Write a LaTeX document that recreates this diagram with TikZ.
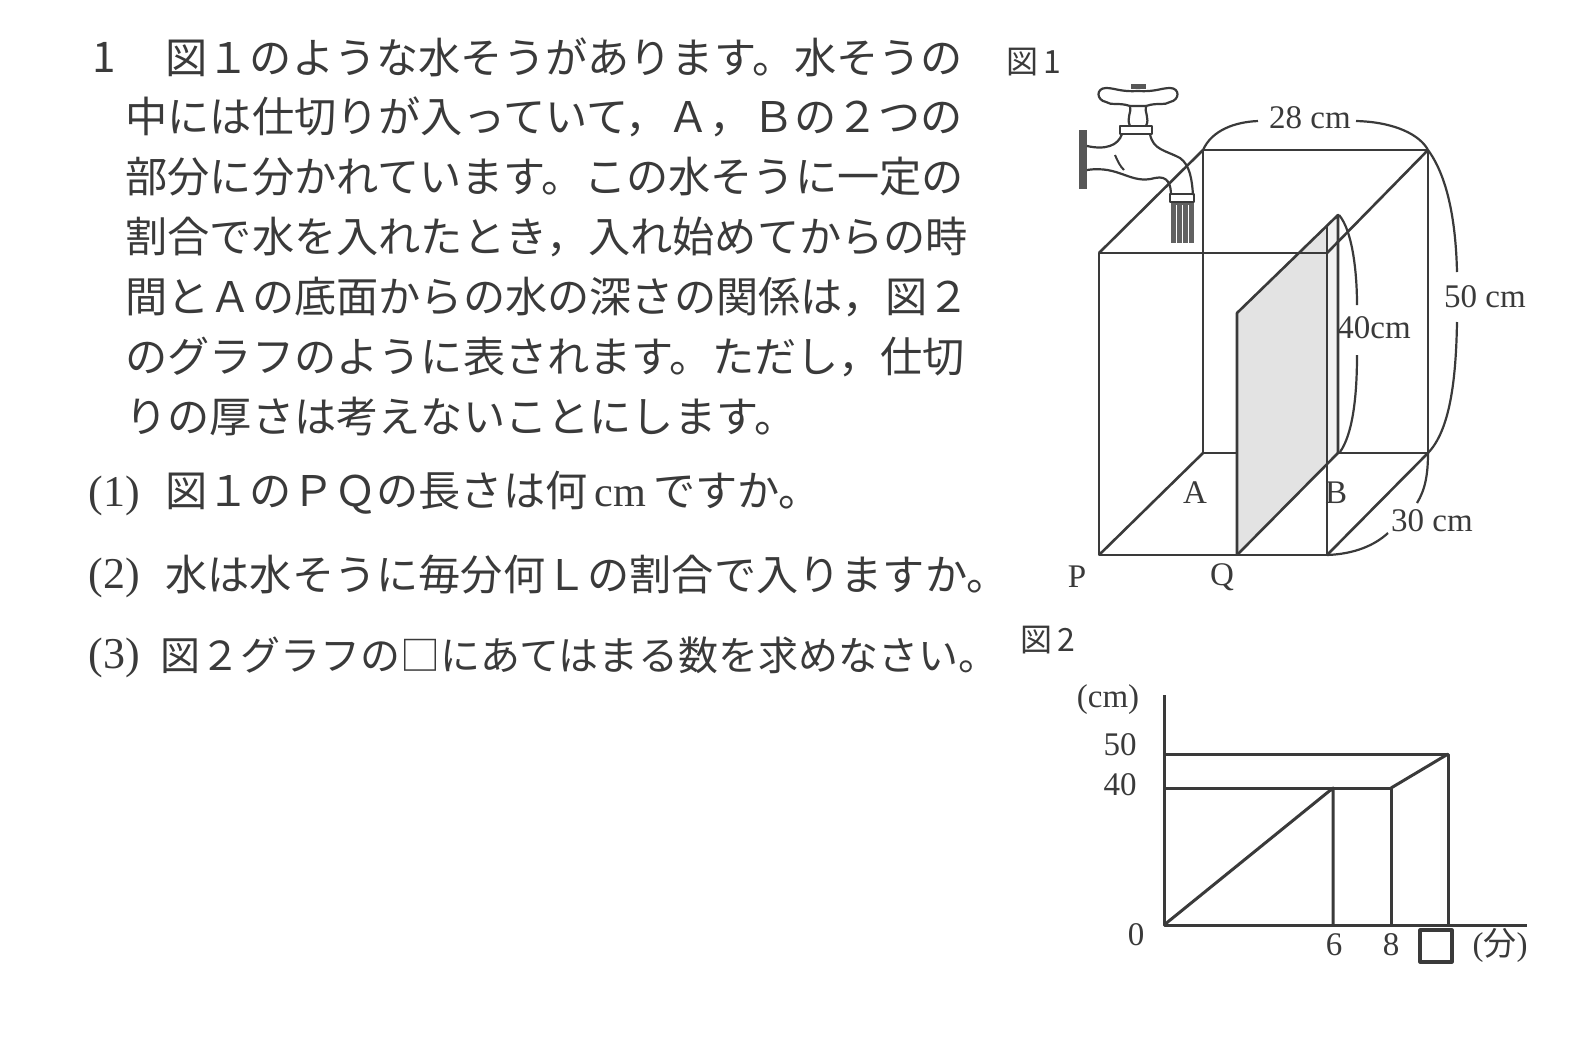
\documentclass[tikz,border=0pt]{standalone}
\usepackage{fontspec}
\setmainfont{Liberation Serif}
\newfontfamily\jp{Noto Sans CJK JP}
\definecolor{ink}{HTML}{3A3A3A}
\begin{document}
\begin{tikzpicture}[x=0.5pt,y=-0.5pt,line join=round,
  ln/.style={draw=ink,line width=1.3pt},
  dim/.style={draw=ink,line width=1.1pt},
  body/.style={anchor=west,inner sep=0pt,text=ink,font=\jp\fontsize{21.1pt}{24pt}\selectfont},
  numl/.style={anchor=west,inner sep=0pt,text=ink,font=\rmfamily\fontsize{22pt}{24pt}\selectfont},
  lab/.style={inner sep=0pt,text=ink,font=\fontsize{16.5pt}{18pt}\selectfont},
  jlab/.style={inner sep=0pt,text=ink,font=\jp\fontsize{16pt}{18pt}\selectfont}]
\useasboundingbox (0,0) rectangle (1580,1040);
% ---------- text ----------
\node[body] (n1) at (92,57) {1};
\node[body] (l1) at (165,57) {図１のような水そうがあります。水そうの};
\node[body] (l2) at (125,117) {中には仕切りが入っていて，Ａ，Ｂの２つの};
\node[body] (l3) at (125,177) {部分に分かれています。この水そうに一定の};
\node[body] (l4) at (125,237) {割合で水を入れたとき，入れ始めてからの時};
\node[body] (l5) at (125,297) {間とＡの底面からの水の深さの関係は，図２};
\node[body] (l6) at (125,357) {のグラフのように表されます。ただし，仕切};
\node[body] (l7) at (125,417) {りの厚さは考えないことにします。};
\node[numl] (q1n) at (88,496) {(1)};
\node[body] (q1) at (165,493) {図１のＰＱの長さは何\,{\rmfamily cm}\,ですか。};
\node[numl] (q2n) at (88,578) {(2)};
\node[body] (q2) at (165,575) {水は水そうに毎分何Ｌの割合で入りますか。};
\node[numl] (q3n) at (88,658) {(3)};
\node[body,font=\jp\fontsize{20pt}{24pt}\selectfont] (q3) at (160,655) {図２グラフの□にあてはまる数を求めなさい。};
% ---------- figure 1 ----------
\node[jlab] (f1) at (1034,62) {図\,1};
% back face (behind partition)
\draw[ln] (1203,150) rectangle (1428,453);
\draw[ln] (1099,555) -- (1203,453);
% partition fill
\fill[gray!22] (1237,555) -- (1237,313) -- (1338,215) -- (1338,453) -- cycle;
\fill[gray!10] (1327,225) -- (1338,215) -- (1338,453) -- (1327,464) -- cycle;
\draw[ln] (1338,453) -- (1428,453);
% front face
\draw[ln] (1099,253) rectangle (1327,555);
% depth edges
\draw[ln] (1099,253) -- (1203,150);
\draw[ln] (1327,253) -- (1428,150);
\draw[ln] (1327,555) -- (1428,453);
% partition
\draw[ln] (1237,555) -- (1237,313) -- (1338,215) -- (1338,453);
\draw[ln] (1237,555) -- (1338,453);
\draw[ln] (1327,225) -- (1327,555);
% faucet
\fill[ink!85] (1079,130) rectangle (1087,189);
\draw[ln,line width=1.1pt] (1087,146) .. controls (1105,150) and (1118,146) .. (1122,134);
\draw[ln,line width=1.1pt] (1150,134) .. controls (1153,150) and (1165,150) .. (1180,158) .. controls (1190,165) and (1192,180) .. (1193,195);
\draw[ln,line width=1.1pt] (1087,170) .. controls (1120,165) and (1130,185) .. (1155,178) .. controls (1168,175) and (1171,185) .. (1171,195);
\draw[ln,line width=1.0pt] (1115,155) .. controls (1118,162) and (1120,166) .. (1124,170);
\draw[ln,line width=1.1pt] (1120,126) rectangle (1152,134);
\draw[ln,line width=1.1pt] (1130,126) .. controls (1126,118) and (1132,112) .. (1130,106) -- (1146,106) .. controls (1144,112) and (1150,118) .. (1146,126);
\draw[ln,line width=1.1pt] (1130,106) .. controls (1118,102) and (1112,106) .. (1106,102) .. controls (1096,100) and (1096,88) .. (1106,88) .. controls (1115,88) and (1120,92) .. (1138,91) .. controls (1156,92) and (1161,88) .. (1170,88) .. controls (1180,88) and (1180,100) .. (1170,102) .. controls (1164,106) and (1158,102) .. (1146,106);
\fill[ink!85] (1131,84) rectangle (1146,89);
\draw[ln,line width=1.1pt] (1170,194) rectangle (1194,202);
\fill[ink!80] (1171,203) rectangle (1194,243);
\foreach \xx in {1176,1182,1188} \draw[white,line width=0.5pt] (\xx,205) -- (\xx,243);
% dimensions
\draw[dim] (1203,150) .. controls (1212,130) and (1235,122) .. (1258,121);
\draw[dim] (1356,121) .. controls (1395,122) and (1420,135) .. (1428,150);
\draw[dim] (1428,150) .. controls (1450,180) and (1456,230) .. (1457,272);
\draw[dim] (1457,322) .. controls (1456,380) and (1450,430) .. (1428,453);
\draw[dim] (1339,215) .. controls (1352,230) and (1357,270) .. (1357,305);
\draw[dim] (1357,355) .. controls (1357,400) and (1352,435) .. (1340,452);
\draw[dim] (1428,453) .. controls (1428,475) and (1425,490) .. (1417,503);
\draw[dim] (1327,555) .. controls (1355,554) and (1375,545) .. (1388,533);
\node[lab] (d28) at (1310,118) {28 cm};
\node[lab] (d50) at (1485,297) {50 cm};
\node[lab] (d40) at (1374,328) {40cm};
\node[lab] (d30) at (1432,521) {30 cm};
\node[lab] (la) at (1195,493) {A};
\node[lab] (lb) at (1336,493) {B};
\node[lab] (lp) at (1077,577) {P};
\node[lab] (lq) at (1222,577) {Q};
% ---------- figure 2 ----------
\node[jlab] (f2) at (1048,640) {図\,2};
\draw[ln,line width=1.5pt] (1164,695) -- (1164,925) -- (1527,925);
\draw[ln,line width=1.5pt] (1164,754) -- (1448,754) -- (1448,925);
\draw[ln,line width=1.5pt] (1164,788) -- (1391,788) -- (1391,925);
\draw[ln,line width=1.5pt] (1164,925) -- (1333,788) -- (1333,925);
\draw[ln,line width=1.5pt] (1391,788) -- (1448,754);
\node[lab] (gcm) at (1108,700) {(cm)};
\node[lab] (g50) at (1120,745) {50};
\node[lab] (g40) at (1120,785) {40};
\node[lab] (g0) at (1136,935) {0};
\node[lab] (g6) at (1334,945) {6};
\node[lab] (g8) at (1391,945) {8};
\draw[ln,line width=1.6pt] (1420,930) rectangle (1452,962);
\node[lab] (gmin) at (1500,945) {({\jp 分})};
\end{tikzpicture}
\end{document}
